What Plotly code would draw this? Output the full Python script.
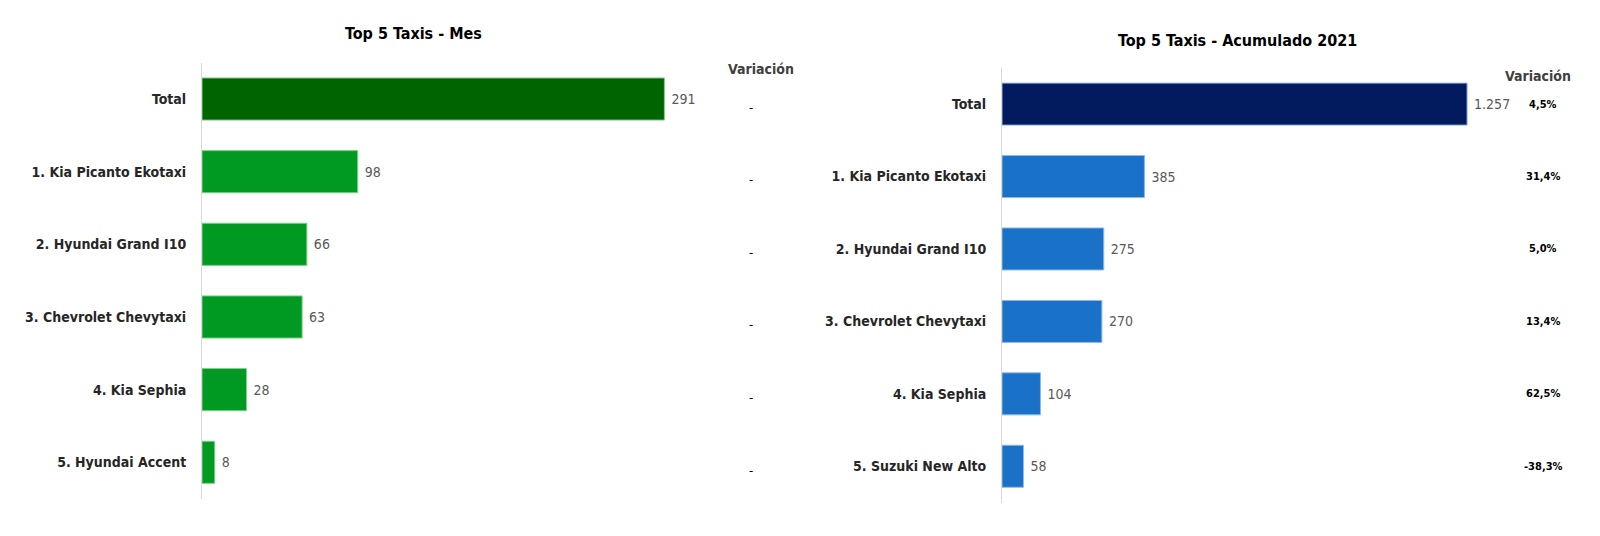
import plotly.graph_objects as go

# ── Datos ─────────────────────────────────────────────────────────────────────
cat_mes = ["Total", "1. Kia Picanto Ekotaxi", "2. Hyundai Grand I10",
           "3. Chevrolet Chevytaxi", "4. Kia Sephia", "5. Hyundai Accent"]
val_mes = [291, 98, 66, 63, 28, 8]
var_mes = [None, None, None, None, None, None]

cat_acum = ["Total", "1. Kia Picanto Ekotaxi", "2. Hyundai Grand I10",
            "3. Chevrolet Chevytaxi", "4. Kia Sephia", "5. Suzuki New Alto"]
val_acum = [1257, 385, 275, 270, 104, 58]
var_acum = [4.5, 31.4, 5.0, 13.4, 62.5, -38.3]

# ── Estilo ────────────────────────────────────────────────────────────────────
FONT = "DejaVu Sans Condensed, Liberation Sans Narrow, sans-serif"
GREEN_DARK, GREEN = "#006400", "#009A22"
NAVY, BLUE = "#011B5E", "#1A72C8"
W, H = 1600, 536


def px_x(v):
    return v / W


def px_y(v):
    return 1 - v / H


def fmt_num(v):
    return " " + f"{v:,}".replace(",", ".")


def fmt_pct(v):
    return "-" if v is None else f"{v:.1f}%".replace(".", ",")


fig = go.Figure()

fig.add_trace(go.Bar(
    x=val_mes, y=cat_mes, orientation="h",
    marker=dict(color=[GREEN_DARK] + [GREEN] * 5,
                line=dict(color="#7fcf8f", width=1)),
    text=[fmt_num(v) for v in val_mes], textposition="outside",
    textfont=dict(family=FONT, size=14, color="#595959"),
    cliponaxis=False, xaxis="x", yaxis="y", showlegend=False
))

fig.add_trace(go.Bar(
    x=val_acum, y=cat_acum, orientation="h",
    marker=dict(color=[NAVY] + [BLUE] * 5,
                line=dict(color="#8fb8e6", width=1)),
    text=[fmt_num(v) for v in val_acum], textposition="outside",
    textfont=dict(family=FONT, size=14, color="#595959"),
    cliponaxis=False, xaxis="x2", yaxis="y2", showlegend=False
))

annotations = [
    dict(text="<b>Top 5 Taxis - Mes</b>", x=px_x(405), y=px_y(26),
         xref="paper", yref="paper", xanchor="center", yanchor="middle",
         showarrow=False, font=dict(family=FONT, size=16, color="#000000")),
    dict(text="<b>Top 5 Taxis - Acumulado 2021</b>", x=px_x(1229), y=px_y(33),
         xref="paper", yref="paper", xanchor="center", yanchor="middle",
         showarrow=False, font=dict(family=FONT, size=16, color="#000000")),
    dict(text="<b>Variación</b>", x=px_x(753), y=px_y(61),
         xref="paper", yref="paper", xanchor="center", yanchor="middle",
         showarrow=False, font=dict(family=FONT, size=14, color="#404040")),
    dict(text="<b>Variación</b>", x=px_x(1530), y=px_y(68),
         xref="paper", yref="paper", xanchor="center", yanchor="middle",
         showarrow=False, font=dict(family=FONT, size=14, color="#404040")),
]

for c, v in zip(cat_mes, var_mes):
    annotations.append(dict(text=fmt_pct(v), x=px_x(743), y=c, xref="paper", yref="y",
                            xanchor="center", yshift=-8, showarrow=False,
                            font=dict(family=FONT, size=13, color="#000000")))

for c, v in zip(cat_acum, var_acum):
    annotations.append(dict(text=f"<b>{fmt_pct(v)}</b>", x=px_x(1535), y=c,
                            xref="paper", yref="y2", xanchor="center", showarrow=False,
                            font=dict(family=FONT, size=11, color="#000000")))

# escala: 1.589 px/unidad (mes), 0.370 px/unidad (acumulado)
left_x0, left_x1 = 194, 720
right_x0, right_x1 = 994, 1480

fig.update_layout(
    width=W, height=H,
    margin=dict(l=0, r=0, t=0, b=0),
    paper_bgcolor="white", plot_bgcolor="white",
    bargap=0.42,
    font=dict(family=FONT),
    xaxis=dict(domain=[px_x(left_x0), px_x(left_x1)],
               range=[0, (left_x1 - left_x0) / 1.589],
               visible=False, fixedrange=True),
    yaxis=dict(domain=[px_y(490.6), px_y(54.7)], autorange="reversed",
               showline=True, linecolor="#d9d9d9", linewidth=1,
               ticks="", ticklabelstandoff=12, showgrid=False,
               tickfont=dict(family=FONT, size=14, color="#262626"),
               anchor="x"),
    xaxis2=dict(domain=[px_x(right_x0), px_x(right_x1)],
                range=[0, (right_x1 - right_x0) / 0.370],
                visible=False, fixedrange=True, anchor="y2"),
    yaxis2=dict(domain=[px_y(494.5), px_y(59.9)], autorange="reversed",
                showline=True, linecolor="#d9d9d9", linewidth=1,
                ticks="", ticklabelstandoff=12, showgrid=False,
                tickfont=dict(family=FONT, size=14, color="#262626"),
                anchor="x2"),
    annotations=annotations,
)

# etiquetas de categoría en negrita
fig.update_yaxes(tickprefix="<b>", ticksuffix="</b>")

fig.write_html("out.html")
